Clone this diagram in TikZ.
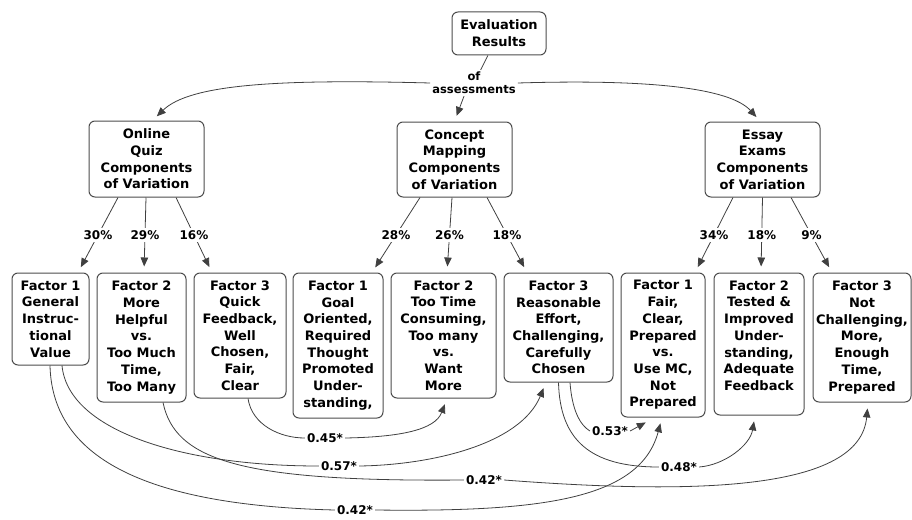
\documentclass[tikz,border=0pt]{standalone}
\usepackage{fontspec}
\setmainfont{DejaVu Sans}
\usetikzlibrary{arrows.meta}

\tikzset{
	box/.style={draw=black!70,line width=1pt,rounded corners=6pt,align=center,inner sep=2pt,font=\fontsize{13}{16.7}\selectfont\bfseries},
	conn/.style={draw=black!75,line width=0.8pt},
	arr/.style={conn,-{Triangle[length=9pt,width=7.5pt]},shorten >=6pt},
	lbl/.style={fill=white,inner sep=2pt,font=\fontsize{12}{13}\selectfont\bfseries}
}

\begin{document}
\begin{tikzpicture}[x=1pt,y=-1pt]
		\useasboundingbox (0,0) rectangle (912,519);

		\node[box,minimum width=94pt,minimum height=43pt] (eval) at (499,33.5) {Evaluation\\Results};
		\node[lbl,font=\fontsize{11.5}{13}\selectfont\bfseries,align=center] (ofas) at (474,83) {of\\assessments};

		\node[box,minimum width=115pt,minimum height=76pt] (quiz) at (146.5,159) {Online\\Quiz\\Components\\of Variation};
		\node[box,minimum width=115pt,minimum height=75pt] (concept) at (454.5,159.5) {Concept\\Mapping\\Components\\of Variation};
		\node[box,minimum width=115pt,minimum height=75pt] (essay) at (762.5,159.5) {Essay\\Exams\\Components\\of Variation};

		\node[box,minimum width=77pt,minimum height=92pt] (f1a) at (50.5,319) {Factor 1\\General\\Instruc-\\tional\\Value};
		\node[box,minimum width=89pt,minimum height=129pt] (f2a) at (141.5,337.5) {Factor 2\\More\\Helpful\\vs.\\Too Much\\Time,\\Too Many};
		\node[box,minimum width=92pt,minimum height=125pt] (f3a) at (240,335.5) {Factor 3\\Quick\\Feedback,\\Well\\Chosen,\\Fair,\\Clear};
		\node[box,minimum width=90pt,minimum height=145pt] (f1b) at (338,345.5) {Factor 1\\Goal\\Oriented,\\Required\\Thought\\Promoted\\Under-\\standing,};
		\node[box,minimum width=105pt,minimum height=125pt] (f2b) at (443.5,335.5) {Factor 2\\Too Time\\Consuming,\\Too many\\vs.\\Want\\More};
		\node[box,minimum width=109pt,minimum height=109pt] (f3b) at (558.5,327.5) {Factor 3\\Reasonable\\Effort,\\Challenging,\\Carefully\\Chosen};
		\node[box,minimum width=84pt,minimum height=144pt] (f1c) at (663,345) {Factor 1\\Fair,\\Clear,\\Prepared\\vs.\\Use MC,\\Not\\Prepared};
		\node[box,minimum width=90pt,minimum height=142pt,text depth=17pt] (f2c) at (759,344) {Factor 2\\Tested \&\\Improved\\Under-\\standing,\\Adequate\\Feedback};
		\node[box,minimum width=98pt,minimum height=129pt] (f3c) at (862,337.5) {Factor 3\\Not\\Challenging,\\More,\\Enough\\Time,\\Prepared};

		\draw[conn] (eval) -- (ofas);
		\draw[arr] (ofas.west) .. controls (280,79) and (190,84) .. ([xshift=6pt]quiz.north);
		\draw[arr] ([xshift=-10pt]ofas.south) -- (concept.north);
		\draw[arr] (ofas.east) .. controls (650,79) and (730,88) .. ([xshift=-2pt]essay.north);

		\draw[arr] ([xshift=-28.5pt]quiz.south) -- node[lbl] {30\%} ([xshift=27.5pt]f1a.north);
		\draw[arr] ([xshift=-0.5pt]quiz.south) -- node[lbl] {29\%} ([xshift=2.5pt]f2a.north);
		\draw[arr] ([xshift=29.5pt]quiz.south) -- node[lbl] {16\%} ([xshift=-28pt]f3a.north);
		\draw[arr] ([xshift=-34.5pt]concept.south) -- node[lbl] {28\%} ([xshift=34pt]f1b.north);
		\draw[arr] ([xshift=-2.5pt]concept.south) -- node[lbl] {26\%} ([xshift=3.5pt]f2b.north);
		\draw[arr] ([xshift=32.5pt]concept.south) -- node[lbl] {18\%} ([xshift=-31.5pt]f3b.north);
		\draw[arr] ([xshift=-29.5pt]essay.south) -- node[lbl] {34\%} ([xshift=32pt]f1c.north);
		\draw[arr] (essay.south) -- node[lbl] {18\%} ([xshift=2pt]f2c.north);
		\draw[arr] ([xshift=28.5pt]essay.south) -- node[lbl] {9\%} ([xshift=-30pt]f3c.north);

		\node[lbl] (r45) at (325,438) {0.45*};
		\node[lbl] (r57) at (339,466) {0.57*};
		\node[lbl] (r42a) at (484,480) {0.42*};
		\node[lbl] (r42b) at (355,510) {0.42*};
		\node[lbl] (r53) at (610,431) {0.53*};
		\node[lbl] (r48) at (679,467) {0.48*};

		\draw[conn] ([xshift=8pt]f3a.south) .. controls (252,425) and (280,438) .. (r45.west);
		\draw[arr] (r45.east) .. controls (400,437) and (435,430) .. ([xshift=3.5pt]f2b.south);
		\draw[conn] ([xshift=11.5pt]f1a.south) .. controls (68,430) and (180,466) .. (r57.west);
		\draw[arr] (r57.east) .. controls (430,465) and (520,445) .. ([xshift=-12.5pt]f3b.south);
		\draw[conn] ([xshift=21.5pt]f2a.south) .. controls (175,460) and (240,482) .. (r42a.west);
		\draw[arr] (r42a.east) .. controls (700,495) and (860,490) .. ([xshift=6pt]f3c.south);
		\draw[conn] ([xshift=-0.5pt]f1a.south) .. controls (52,450) and (130,505) .. (r42b.west);
		\draw[arr] (r42b.east) .. controls (540,512) and (640,500) .. ([xshift=-1pt]f1c.south);
		\draw[conn] ([xshift=11.5pt]f3b.south) .. controls (572,410) and (580,425) .. (r53.west);
		\draw[arr] (r53.east) -- ([xshift=-12pt,yshift=-2pt]f1c.south);
		\draw[conn] (f3b.south) .. controls (560,440) and (590,467) .. (r48.west);
		\draw[arr] (r48.east) .. controls (725,465) and (750,445) .. ([xshift=-4pt]f2c.south);
	\end{tikzpicture}
\end{document}
